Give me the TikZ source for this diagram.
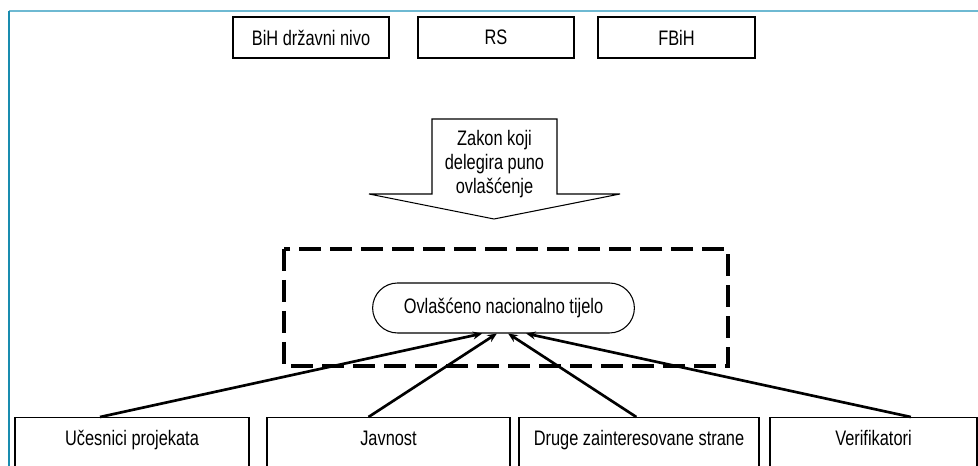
\documentclass[tikz,border=0pt]{standalone}
\usepackage{fontspec}
\setmainfont{Liberation Sans}[FakeStretch=0.78]
\usetikzlibrary{shapes.misc,arrows.meta}
\definecolor{frametop}{RGB}{110,185,210}
\definecolor{frameleft}{RGB}{25,140,175}
\begin{document}
\begin{tikzpicture}[x=0.75pt,y=-0.75pt, font=\fontsize{15.75}{18}\selectfont,
  box/.style={draw, line width=0.8pt, inner sep=0pt, minimum height=30.75pt},
  bbox/.style={draw, line width=0.8pt, inner xsep=0pt, inner ysep=0pt, text height=21pt, text depth=32pt, anchor=north},
  arr/.style={line width=2pt, -{Stealth[length=7pt,width=6pt]}}]
\useasboundingbox (0,0) rectangle (978,466);
\clip (0,0) rectangle (978,466);
% frame
\draw[frametop, line width=1.5pt] (9,11.5) -- (978,11.5);
\draw[frameleft, line width=1.2pt] (9,11) -- (9,466);
% top boxes
\node[box, minimum width=117pt] (bih) at (311,37.5) {BiH državni nivo};
\node[box, minimum width=117pt] (rs) at (496,37.5) {RS};
\node[box, minimum width=117.75pt] (fbih) at (676.5,37.5) {FBiH};
% big arrow
\draw[line width=0.8pt, fill=white] (432,119) -- (557,119) -- (557,194) -- (620,194) -- (494,219) -- (369,194) -- (432,194) -- cycle;
\node[align=center] (zakon) at (494.5,164) {Zakon koji\\delegira puno\\ovlašćenje};
% dashed frame
\draw[line width=3pt, dash pattern=on 16.5pt off 6.75pt] (284,249) rectangle (728,366);
% central node
\node[draw, rounded rectangle, line width=0.8pt, minimum width=203pt, minimum height=37.5pt] (ont) at (503.5,308) {Ovlašćeno nacionalno tijelo};
% bottom boxes
\node[bbox, minimum width=175.5pt] (u) at (132,417) {Učesnici projekata};
\node[bbox, minimum width=182.25pt] (j) at (388.5,417) {Javnost};
\node[bbox, minimum width=180pt] (d) at (639,417) {Druge zainteresovane strane};
\node[bbox, minimum width=155.25pt] (v) at (873.5,417) {Verifikatori};
% arrows
\draw[arr] ([xshift=-24pt]u.north) -- ([xshift=-16pt]ont.south);
\draw[arr] ([xshift=-15pt]j.north) -- ([xshift=-5pt]ont.south);
\draw[arr] ([xshift=-2pt]d.north) -- ([xshift=3.5pt]ont.south);
\draw[arr] ([xshift=28pt]v.north) -- ([xshift=17pt]ont.south);
\end{tikzpicture}
\end{document}
